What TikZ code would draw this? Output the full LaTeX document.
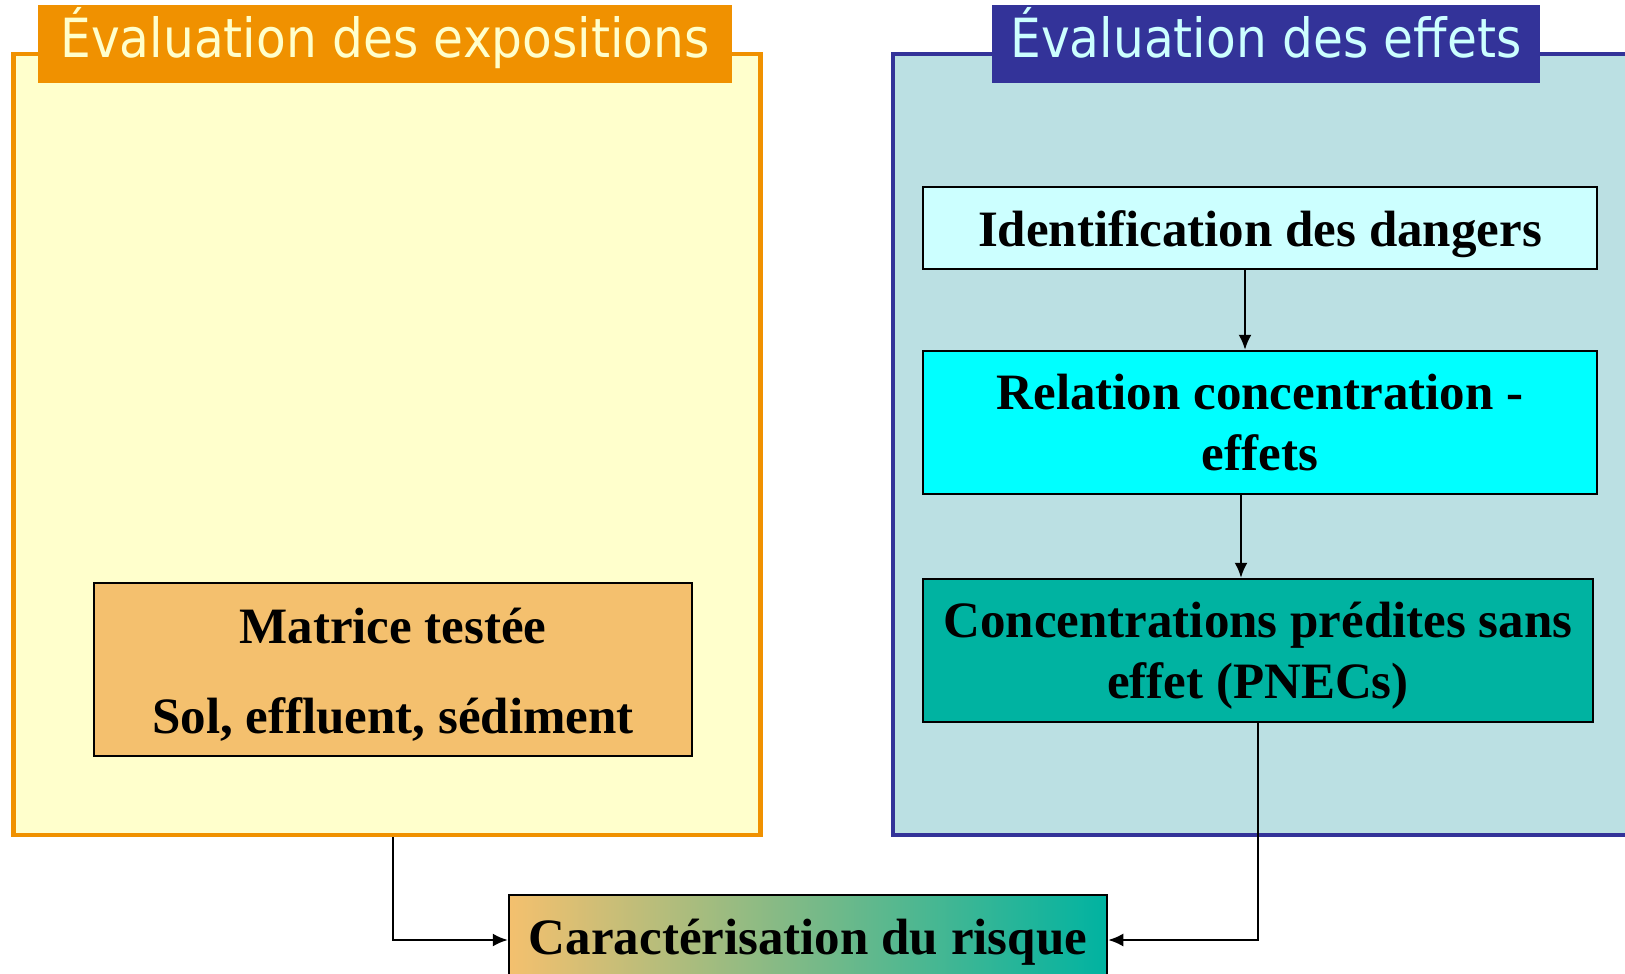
\documentclass[tikz,border=0pt]{standalone}
\usepackage{fontspec}
\setmainfont{Liberation Serif}
\newfontfamily\titlefont[FakeStretch=0.9]{DejaVu Sans}
\usetikzlibrary{arrows.meta,positioning}
\definecolor{expOrange}{HTML}{F09100}
\definecolor{expFill}{HTML}{FFFFCC}
\definecolor{effBlue}{HTML}{333399}
\definecolor{effFill}{HTML}{BBE0E3}
\definecolor{paleCyan}{HTML}{CCFFFF}
\definecolor{brightCyan}{HTML}{00FFFF}
\definecolor{tealBox}{HTML}{00B3A1}
\definecolor{sandBox}{HTML}{F4C06E}
\begin{document}
\begin{tikzpicture}[x=1pt,y=-1pt,
  panel/.style={rectangle, line width=4.5pt, inner sep=0pt},
  titlebox/.style={rectangle, inner sep=0pt, minimum height=78pt, text height=40pt, text depth=12pt, font=\titlefont\fontsize{54}{60}\selectfont},
  stepbox/.style={rectangle, draw=black, line width=2.5pt, inner sep=0pt, align=center, font=\bfseries\fontsize{51}{61}\selectfont},
  link/.style={-{Latex[length=15pt,width=13pt]}, line width=2pt}]
\useasboundingbox (0,0) rectangle (1625,974);

% Cadres
\node (leftpanel) [panel, draw=expOrange, fill=expFill, minimum width=747pt, minimum height=781pt] at (387,444.5) {};
\node (rightpanel) [panel, draw=effBlue, fill=effFill, minimum width=772pt, minimum height=781pt] at (1279,444.5) {};

\node (exptitle) [titlebox, fill=expOrange, text=expFill, minimum width=694pt] at (385,44) {Évaluation des expositions};
\node (efftitle) [titlebox, fill=effBlue, text=paleCyan, minimum width=548pt] at (1266,44) {Évaluation des effets};

% Etapes
\node (danger) [stepbox, fill=paleCyan, minimum width=674pt, minimum height=82pt, text height=47pt, text depth=10pt] at (1260,228) {Identification des dangers};
\node (relation) [stepbox, fill=brightCyan, minimum width=674pt, minimum height=143pt] at (1260,422.5) {Relation concentration -\\effets};
\node (pnec) [stepbox, fill=tealBox, minimum width=670pt, minimum height=143pt] at (1258,650.5) {\rule{0pt}{46pt}Concentrations prédites sans\\effet (PNECs)};
\node (matrice) [stepbox, fill=sandBox, minimum width=598pt, minimum height=173pt] at (393,669.5) {\rule{0pt}{45pt}Matrice testée\\[29pt]Sol, effluent, sédiment};
\node (risque) [stepbox, left color=sandBox, right color=tealBox, minimum width=598pt, minimum height=90pt, text height=38pt, text depth=10pt] at (808,940) {Caractérisation du risque};

% Liens
\draw[link] ([xshift=-15pt]danger.south) -- ([xshift=-15pt]danger.south |- relation.north);
\draw[link] ([xshift=-19pt]relation.south) -- ([xshift=-19pt]relation.south |- pnec.north);
\draw[link] ([xshift=6pt]leftpanel.south) |- (risque.west);
\draw[link] (pnec.south) |- (risque.east);

\end{tikzpicture}
\end{document}
